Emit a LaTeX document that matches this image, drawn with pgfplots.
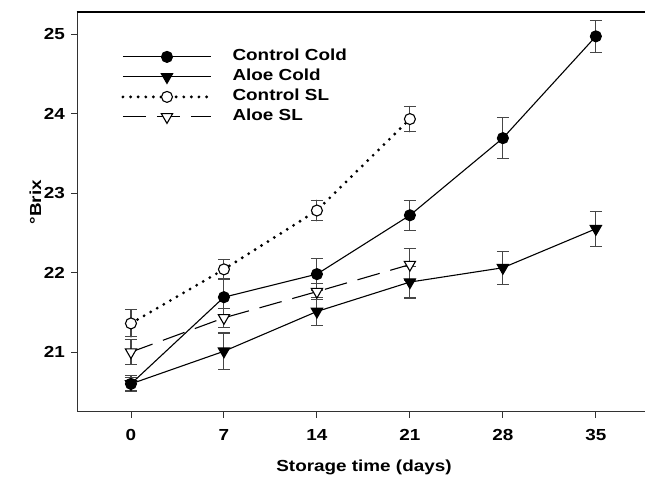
\documentclass[border=0pt]{standalone}
\usepackage{fontspec}
\setmainfont{Liberation Sans}[FakeStretch=1.18]
\usepackage{pgfplots}
\usepackage{pgfplotstable}
\pgfplotsset{compat=1.18}
\definecolor{errc}{RGB}{70,70,70}
\definecolor{framec}{RGB}{50,50,50}

\pgfplotstableread{
x  y     e
0  20.60 0.10
7  21.69 0.22
14 21.98 0.20
21 22.72 0.19
28 23.69 0.26
35 24.97 0.20
}\ctrlcold
\pgfplotstableread{
x  y     e
0  20.60 0.08
7  21.01 0.23
14 21.51 0.18
21 21.88 0.20
28 22.06 0.21
35 22.55 0.22
}\aloecold
\pgfplotstableread{
x  y     e
0  21.36 0.17
7  22.04 0.12
14 22.78 0.13
21 23.93 0.16
}\ctrlsl
\pgfplotstableread{
x  y     e
0  21.00 0.16
7  21.43 0.12
14 21.76 0.10
21 22.10 0.20
}\aloesl

\begin{document}
\begin{tikzpicture}
\begin{axis}[
    scale only axis, width=567.7pt, height=400pt,
    xmin=-4.04, xmax=38.7, ymin=20.25, ymax=25.28,
    clip=false,
    axis x line*=bottom, axis y line*=left,
    axis line style={framec, line width=1.1pt},
    xtick={0,7,14,21,28,35}, ytick={21,22,23,24,25},
    xtick pos=bottom, ytick pos=left,
    tick align=outside, major tick length=6pt,
    tick style={framec, line width=0.9pt},
    /pgf/number format/assume math mode=true,
    ticklabel style={font=\bfseries\fontsize{16}{19}\selectfont},
    xticklabel style={yshift=-8pt},
    yticklabel style={xshift=-3pt},
    label style={font=\bfseries\fontsize{16}{19}\selectfont},
    xlabel={Storage time (days)}, ylabel={°Brix},
    x label style={at={(axis description cs:0.505,-0.14)}, anchor=center},
    y label style={at={(axis description cs:-0.074,0.524)}, anchor=center},
    error bars/y dir=both, error bars/y explicit,
    error bars/error bar style={errc, line width=1.1pt, solid},
    error bars/error mark options={rotate=90, mark size=6pt, errc, line width=1.1pt, solid},
    legend cell align=left,
    legend style={draw=none, fill=none, at={(axis description cs:0.072,0.915)},
      anchor=north west, font=\bfseries\fontsize{16}{19}\selectfont,
      row sep=2pt,
      nodes={inner sep=1pt, text height=12pt, text depth=4pt},
      /tikz/every odd column/.append style={column sep=19pt}},
    legend image code/.code={%
      \draw[mark repeat=2, mark phase=2, #1]
        plot coordinates {(0pt,0pt) (44pt,0pt) (88pt,0pt)};},
  ]
  \addplot[black, line width=1.1pt, mark=*, mark size=5.5pt]
    table[x=x, y=y, y error=e] {\ctrlcold};
  \addlegendentry{Control Cold}
  \addplot[black, line width=1.1pt, mark=triangle*, mark size=6.5pt,
    mark options={rotate=180}]
    table[x=x, y=y, y error=e] {\aloecold};
  \addlegendentry{Aloe Cold}
  \addplot[black, line width=3.2pt, line cap=round, dash pattern=on 0pt off 7.6pt,
    mark=*, mark size=5.5pt,
    mark options={solid, fill=white, draw=black, line width=1.1pt}]
    table[x=x, y=y, y error=e] {\ctrlsl};
  \addlegendentry{Control SL}
  \addplot[black, line width=1.1pt, dash pattern=on 23pt off 11pt,
    mark=triangle*, mark size=6.5pt,
    mark options={solid, rotate=180, fill=white, draw=black, line width=1.1pt}]
    table[x=x, y=y, y error=e] {\aloesl};
  \addlegendentry{Aloe SL}
  \coordinate (ll) at (rel axis cs:0,0);
\end{axis}
% top frame line (no right spine in the reference)
\draw[black, line width=2pt] (ll) ++(-0.55pt,400pt) -- ++(568.3pt,0pt);
\pgfresetboundingbox
\useasboundingbox (ll) ++(-77.3pt,-67.3pt) rectangle ++(645pt,479pt);
\end{tikzpicture}
\end{document}
